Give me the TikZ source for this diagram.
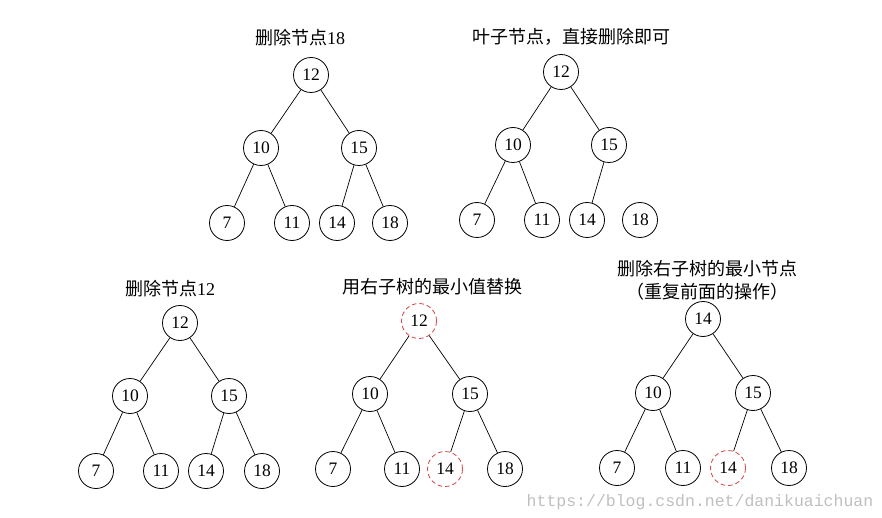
\documentclass[tikz,border=0pt]{standalone}
\usepackage{fontspec}
\usepackage{xcolor}
\usepackage{tikz}
\setmainfont{Liberation Serif}
\setmonofont{Liberation Mono}
\newfontfamily\cjk{Noto Sans CJK SC}
\definecolor{hlred}{RGB}{214,64,64}
\tikzset{
  key/.style={circle,draw,line width=0.8pt,minimum size=35pt,inner sep=0pt,
    font=\fontsize{17.5}{20}\selectfont},
  hlkey/.style={key,draw=hlred,dash pattern=on 4.5pt off 3pt},
  link/.style={line width=0.7pt},
  title/.style={font=\cjk\fontsize{18}{23}\selectfont}
}

\begin{document}
\begin{tikzpicture}[x=1pt,y=-1pt]
  \useasboundingbox (0,0) rectangle (882,518);

  % ---- Delete 18 ----
  \node[title] (t1) at (300,38) {删除节点\rmfamily 18};
  \node[key] (a12) at (311,75) {12};
  \node[key] (a10) at (261,148) {10};
  \node[key] (a15) at (359,148) {15};
  \node[key] (a7) at (227,223) {7};
  \node[key] (a11) at (292,223) {11};
  \node[key] (a14) at (337,223) {14};
  \node[key] (a18) at (390,223) {18};
  \draw[link] (a12)--(a10); \draw[link] (a12)--(a15);
  \draw[link] (a10)--(a7);  \draw[link] (a10)--(a11);
  \draw[link] (a15)--(a14); \draw[link] (a15)--(a18);

  % ---- Leaf removed ----
  \node[title] (t2) at (571,37) {叶子节点，直接删除即可};
  \node[key] (b12) at (561,72) {12};
  \node[key] (b10) at (513,145) {10};
  \node[key] (b15) at (609,145) {15};
  \node[key] (b7) at (477,220) {7};
  \node[key] (b11) at (542,220) {11};
  \node[key] (b14) at (587,220) {14};
  \node[key] (b18) at (640,220) {18};
  \draw[link] (b12)--(b10); \draw[link] (b12)--(b15);
  \draw[link] (b10)--(b7);  \draw[link] (b10)--(b11);
  \draw[link] (b15)--(b14);

  % ---- Delete 12 ----
  \node[title] (t3) at (170,289) {删除节点\rmfamily 12};
  \node[key] (c12) at (180,323) {12};
  \node[key] (c10) at (130,396) {10};
  \node[key] (c15) at (229,396) {15};
  \node[key] (c7) at (96,471) {7};
  \node[key] (c11) at (161,471) {11};
  \node[key] (c14) at (206,471) {14};
  \node[key] (c18) at (262,471) {18};
  \draw[link] (c12)--(c10); \draw[link] (c12)--(c15);
  \draw[link] (c10)--(c7);  \draw[link] (c10)--(c11);
  \draw[link] (c15)--(c14); \draw[link] (c15)--(c18);

  % ---- Replace by min of right subtree ----
  \node[title] (t4) at (432,287) {用右子树的最小值替换};
  \node[hlkey] (d12) at (419,321) {12};
  \node[key] (d10) at (370,394) {10};
  \node[key] (d15) at (470,394) {15};
  \node[key] (d7) at (333,469) {7};
  \node[key] (d11) at (402,469) {11};
  \node[hlkey] (d14) at (445,469) {14};
  \node[key] (d18) at (505,469) {18};
  \draw[link] (d12)--(d10); \draw[link] (d12)--(d15);
  \draw[link] (d10)--(d7);  \draw[link] (d10)--(d11);
  \draw[link] (d15)--(d14); \draw[link] (d15)--(d18);

  % ---- Remove the min node ----
  \node[title,align=center] (t5) at (707,280) {删除右子树的最小节点\\（重复前面的操作）};
  \node[key] (e14) at (703,319) {14};
  \node[key] (e10) at (653,393) {10};
  \node[key] (e15) at (753,393) {15};
  \node[key] (e7) at (617,468) {7};
  \node[key] (e11) at (683,468) {11};
  \node[hlkey] (e14b) at (728,468) {14};
  \node[key] (e18) at (789,468) {18};
  \draw[link] (e14)--(e10); \draw[link] (e14)--(e15);
  \draw[link] (e10)--(e7);  \draw[link] (e10)--(e11);
  \draw[link] (e15)--(e14b); \draw[link] (e15)--(e18);

  \node[black!25,font=\ttfamily\fontsize{16.5}{18}\selectfont] (wm) at (700,502)
    {https://blog.csdn.net/danikuaichuan};
\end{tikzpicture}
\end{document}
